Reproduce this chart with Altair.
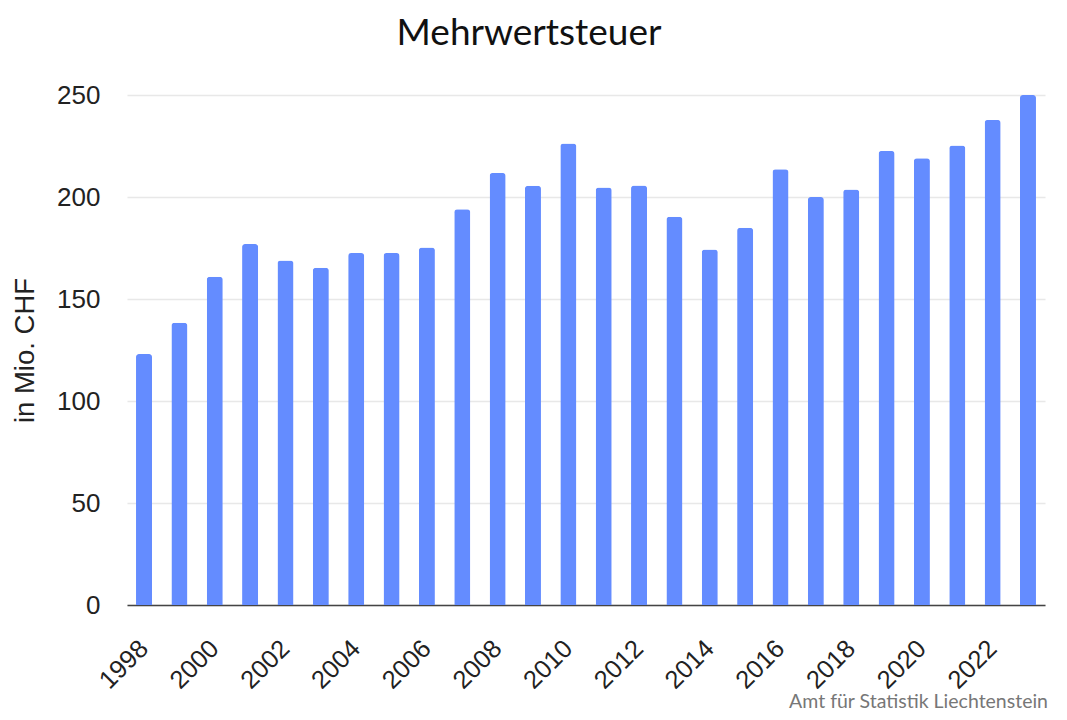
import altair as alt
import pandas as pd

years = [str(y) for y in range(1998, 2024)]
values = [123, 138.3, 160.9, 176.9, 168.9, 165.3, 172.5, 172.5, 175.2, 194.0,
          211.8, 205.5, 226.2, 204.6, 205.6, 190.3, 174.3, 184.9, 213.6, 200.0,
          203.7, 222.6, 219.0, 225.2, 237.8, 250.0]
tick_years = [str(y) for y in range(1998, 2024, 2)]
y_ticks = [0, 50, 100, 150, 200, 250]

df = pd.DataFrame({"Jahr": years, "Wert": values})

W, H = 918, 510

bars = alt.Chart(df).mark_bar(
    color="#648CFF", cornerRadiusTopLeft=3, cornerRadiusTopRight=3
).encode(
    x=alt.X("Jahr:O", sort=years,
            scale=alt.Scale(paddingInner=0.547, paddingOuter=0.255),
            axis=alt.Axis(title=None, values=tick_years, labelAngle=-45,
                          labelAlign="right", labelBaseline="middle",
                          labelFont="Liberation Sans", labelFontSize=25.5,
                          labelColor="#222222", labelPadding=39,
                          ticks=False, tickSize=0,
                          domainColor="#444444", domainWidth=1.5, grid=False)),
    y=alt.Y("Wert:Q", scale=alt.Scale(domain=[0, 250], nice=False),
            axis=alt.Axis(title="in Mio. CHF", values=y_ticks,
                          titleFont="Liberation Sans", titleFontSize=27.5,
                          titleFontWeight="normal", titleColor="#222222",
                          titlePadding=17,
                          labelFont="Liberation Sans", labelFontSize=26,
                          labelColor="#222222", labelPadding=27,
                          ticks=False, tickSize=0, domain=False,
                          grid=True, gridColor="#e8e8e8", gridWidth=1.5)),
)

footer = alt.Chart(pd.DataFrame({"t": ["Amt für Statistik Liechtenstein"]})).mark_text(
    align="right", baseline="alphabetic", font="Lato", fontSize=19.5, color="#777777"
).encode(
    text="t:N", x=alt.value(W + 3), y=alt.value(H + 103)
)

chart = alt.layer(bars, footer).properties(
    width=W, height=H,
    autosize=alt.AutoSizeParams(type="none"),
    padding={"left": 119, "top": 87, "right": 14, "bottom": 107},
    title=alt.TitleParams("Mehrwertsteuer", font="Lato", fontSize=37,
                          fontWeight="normal", color="#111111",
                          anchor="middle", dx=-57, offset=29),
).configure_view(stroke=None)

chart.save("out.html", embed_options={"renderer": "svg", "actions": False})
